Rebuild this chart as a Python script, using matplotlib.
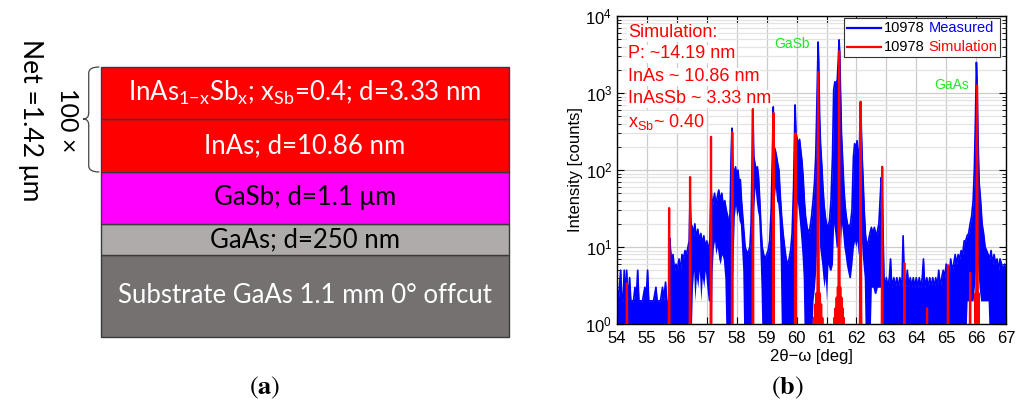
import matplotlib
matplotlib.use('Agg')
import matplotlib.pyplot as plt
from matplotlib.patches import Rectangle, PathPatch
from matplotlib.path import Path
from matplotlib.lines import Line2D
from matplotlib.offsetbox import TextArea, DrawingArea, HPacker, VPacker, AnchoredOffsetbox

plt.rcParams['font.family'] = ['Liberation Sans', 'DejaVu Sans']

# ---- panel (a): layer stack, top to bottom ----
layer_labels = [
    r'InAs$_{\mathregular{1{-}x}}$Sb$_{\mathregular{x}}$; x$_{\mathregular{Sb}}$=0.4; d=3.33 nm',
    'InAs; d=10.86 nm',
    'GaSb; d=1.1 μm',
    'GaAs; d=250 nm',
    'Substrate GaAs 1.1 mm 0° offcut',
]
layer_colors = ['#ff0000', '#ff0000', '#ff00ff', '#afabab', '#767171']
layer_text_colors = ['white', 'white', 'black', 'black', 'white']
layer_heights = [52, 53, 52, 31, 82]   # drawing height of each layer

# ---- panel (b): XRD scan, measured (upper / lower edge of the noisy trace) ----
meas_x = [
    54.00, 54.04, 54.08, 54.12, 54.16, 54.20, 54.24, 54.28, 54.32, 54.36, 54.42, 54.46, 54.55, 54.60, 54.64, 54.69,
    54.73, 54.85, 54.93, 54.97, 55.02, 55.06, 55.15, 55.22, 55.30, 55.34, 55.45, 55.52, 55.56, 55.62, 55.66, 55.72,
    55.74, 55.76, 55.79, 55.83, 55.87, 55.92, 55.97, 56.02, 56.07, 56.12, 56.17, 56.22, 56.27, 56.32, 56.37, 56.41,
    56.44, 56.47,
    56.52, 56.56, 56.60, 56.65, 56.70, 56.75, 56.80, 56.85, 56.90, 56.95, 57.00, 57.05, 57.10, 57.14, 57.18,
    57.22, 57.26, 57.30, 57.35, 57.40, 57.45, 57.50, 57.55, 57.60, 57.65, 57.70, 57.74, 57.78, 57.81, 57.84, 57.87,
    57.92, 57.96, 58.00, 58.04, 58.08, 58.12, 58.16, 58.20, 58.24, 58.28, 58.32, 58.36, 58.40, 58.44, 58.48, 58.51,
    58.54, 58.57,
    58.61, 58.65, 58.69, 58.73, 58.77, 58.81, 58.85, 58.90, 58.95, 59.00, 59.05, 59.10, 59.15, 59.19, 59.22, 59.25,
    59.29, 59.33, 59.37, 59.41, 59.45, 59.50, 59.55, 59.60, 59.65, 59.70, 59.75, 59.80, 59.85, 59.90, 59.95, 59.98,
    60.02, 60.06, 60.10, 60.14, 60.18, 60.22, 60.26, 60.30, 60.35, 60.40, 60.45, 60.50, 60.55, 60.60, 60.64, 60.67,
    60.70, 60.72, 60.74, 60.77,
    60.80, 60.84, 60.88, 60.92, 60.96, 61.00, 61.05, 61.10, 61.15, 61.20, 61.24, 61.28, 61.32, 61.36, 61.40, 61.42,
    61.44, 61.47,
    61.50, 61.54, 61.58, 61.62, 61.66, 61.70, 61.75, 61.80, 61.85, 61.90, 61.94, 61.98, 62.02, 62.06, 62.10, 62.13,
    62.16, 62.19,
    62.22, 62.26, 62.30, 62.35, 62.40, 62.45, 62.50, 62.55, 62.60, 62.65, 62.70, 62.75, 62.79, 62.83, 62.86, 62.89,
    62.92, 62.96, 63.00, 63.05, 63.10, 63.14, 63.18, 63.25, 63.30, 63.35, 63.40, 63.45, 63.52, 63.56, 63.60, 63.65,
    63.70, 63.75, 63.80, 63.85, 63.90, 63.95, 64.00, 64.05, 64.10, 64.15, 64.20, 64.24, 64.28, 64.35, 64.40, 64.45,
    64.50, 64.55, 64.60, 64.65, 64.70, 64.75, 64.80, 64.85, 64.90, 64.95, 65.00, 65.05, 65.10, 65.15, 65.20, 65.25,
    65.30, 65.35, 65.40, 65.45, 65.50, 65.55, 65.60,
    65.65, 65.70, 65.75, 65.80, 65.85, 65.90, 65.94, 65.98, 66.01, 66.03, 66.06, 66.10, 66.15, 66.20, 66.25, 66.30,
    66.35, 66.40, 66.45, 66.50, 66.55, 66.60, 66.65, 66.70, 66.75, 66.80, 66.85, 66.90, 66.95, 67.00,
]
meas_hi = [
    3, 2, 3, 5, 2, 2, 5, 2, 5, 2, 4, 2, 2, 3, 2, 5,
    2, 2, 3, 2, 5, 2, 2, 2, 3, 2, 2, 3, 2, 3.5, 2, 2,
    2, 13, 9, 6, 8, 5, 6, 5, 7, 5, 8, 7, 9, 8, 10, 12,
    45, 20,
    18, 14, 20, 13, 17, 12, 15, 11, 14, 10, 12, 9, 12, 60, 35,
    40, 50, 35, 45, 55, 40, 50, 35, 40, 30, 25, 15, 30, 150, 350, 110,
    90, 110, 80, 100, 70, 75, 40, 25, 15, 10, 9, 8, 9, 10, 20, 100,
    600, 150,
    120, 100, 110, 80, 40, 18, 10, 8, 7, 8, 9, 12, 30, 150, 660, 200,
    180, 150, 120, 100, 50, 25, 15, 10, 7, 6, 7, 9, 15, 60, 700, 300,
    250, 220, 250, 180, 130, 80, 40, 25, 18, 15, 18, 25, 40, 70, 150, 500,
    2000, 4600, 2500, 500,
    220, 120, 60, 35, 25, 20, 18, 22, 40, 150, 1100, 1400, 1300, 1500, 3000, 4900,
    3500, 1000,
    300, 130, 60, 35, 25, 20, 18, 20, 30, 150, 220, 180, 240, 130, 200, 600,
    400, 150,
    80, 30, 15, 10, 12, 15, 18, 15, 18, 14, 16, 20, 40, 80, 60, 15,
    4, 3, 4, 3, 4, 7, 3, 4, 3, 4, 3, 4, 3, 14, 4, 3,
    5, 3, 4, 3, 4, 3, 4, 3, 4, 3, 4, 7, 3, 4, 3, 4,
    3, 4, 3, 4, 3, 5, 3, 4, 5, 4, 6, 5, 4, 7, 5, 6,
    8, 6, 8, 7, 9, 8, 12,
    12, 14, 15, 20, 25, 40, 100, 500, 2500, 1500, 300, 70, 40, 20, 15, 10,
    9, 8, 7, 9, 6, 8, 6, 7, 5, 7, 6, 5, 6, 5,
]
meas_lo = [
    0.5, 0.5, 0.5, 0.5, 0.5, 0.5, 0.5, 0.5, 0.5, 0.5, 0.5, 0.5, 0.5, 0.5, 0.5, 0.5,
    0.5, 0.5, 0.5, 0.5, 0.5, 0.5, 0.5, 0.5, 0.5, 0.5, 0.5, 0.5, 0.5, 0.5, 0.5, 0.5,
    0.5, 0.5, 0.5, 0.5, 0.5, 0.5, 0.5, 0.5, 0.5, 0.5, 0.5, 0.5, 0.5, 0.5, 0.5, 0.5,
    0.5, 0.5,
    3, 5, 2, 4, 3, 5, 2, 4, 3, 5, 3, 2, 2, 0.5, 5,
    10, 12, 8, 10, 7, 6, 8, 7, 4, 0.5, 0.5, 0.5, 0.5, 2, 3, 5,
    25, 35, 25, 30, 22, 20, 10, 5, 0.5, 0.5, 0.5, 0.5, 0.5, 0.5, 0.5, 0.5,
    0.5, 30,
    60, 40, 30, 25, 10, 3, 0.5, 0.5, 0.5, 0.5, 0.5, 0.5, 0.5, 0.5, 0.5, 40,
    60, 40, 37, 25, 8, 0.5, 0.5, 0.5, 0.5, 0.5, 0.5, 0.5, 0.5, 0.5, 0.5, 10,
    40, 30, 20, 13, 8, 4, 0.5, 0.5, 0.5, 0.5, 0.5, 0.5, 2, 3, 5, 10,
    30, 50, 30, 10,
    8, 6, 4, 3, 4, 2, 6, 5, 5, 6, 20, 15, 10, 10, 20, 30,
    20, 10,
    20, 15, 10, 8, 6, 5, 4, 4, 6, 10, 12, 10, 12, 8, 10, 20,
    15, 8,
    6, 4, 0.5, 0.5, 0.5, 0.5, 3, 3, 2.5, 2.5, 3, 3, 3, 3, 0.5, 0.5,
    0.5, 0.5, 0.5, 0.5, 0.5, 0.5, 0.5, 0.5, 0.5, 0.5, 0.5, 0.5, 0.5, 0.5, 0.5, 0.5,
    0.5, 0.5, 0.5, 0.5, 0.5, 0.5, 0.5, 0.5, 0.5, 0.5, 0.5, 0.5, 0.5, 0.5, 0.5, 0.5,
    0.5, 0.5, 0.5, 0.5, 0.5, 0.5, 0.5, 0.5, 0.5, 0.5, 0.5, 0.5, 0.5, 0.5, 0.5, 0.5,
    0.5, 0.5, 0.5, 0.5, 0.5, 0.5, 0.5,
    0.5, 2, 2, 2, 2, 2, 3, 5, 8, 8, 5, 3, 2, 2, 2, 2,
    2, 2, 0.5, 0.5, 0.5, 0.5, 0.5, 0.5, 0.5, 0.5, 0.5, 0.5, 0.5, 0.5,
]

# simulation
sim_x = [
    54.0, 54.315, 54.33, 54.345,
    55.725, 55.74, 55.755,
    56.425, 56.44, 56.455,
    57.125, 57.14, 57.155,
    57.835, 57.85, 57.865,
    58.525, 58.54, 58.555,
    59.215, 59.23, 59.245,
    59.945, 59.96, 59.975,
    60.56, 60.58, 60.60, 60.62, 60.64, 60.66, 60.68, 60.70, 60.72, 60.74, 60.76, 60.78, 60.80, 60.82, 60.84, 60.86,
    60.88,
    61.24, 61.26, 61.28, 61.30, 61.32, 61.34, 61.36, 61.38, 61.40, 61.42, 61.44, 61.46, 61.48, 61.50, 61.52, 61.54,
    61.56, 61.58, 61.60,
    62.10, 62.12, 62.14, 62.16, 62.18,
    62.845, 62.86, 62.875,
    63.585, 63.60, 63.615,
    64.345, 64.36, 64.375,
    65.045, 65.06, 65.075,
    65.785, 65.80, 65.815,
    65.96, 65.98, 66.00, 66.03, 66.06, 66.08, 66.10,
    67.0,
]
sim_y = [
    0.3, 0.3, 3.4, 0.3,
    0.3, 32, 0.3,
    0.3, 81, 0.3,
    0.3, 270, 0.3,
    0.3, 310, 0.3,
    0.3, 620, 0.3,
    0.3, 550, 0.3,
    0.3, 300, 0.3,
    0.3, 1.2, 0.4, 1.8, 0.5, 2.5, 0.8, 3.5, 1870, 3.5, 0.8, 2.5, 0.5, 1.8, 0.4, 1.2,
    0.3,
    0.3, 1.2, 0.4, 1.6, 0.5, 2.2, 0.6, 3.0, 1.0, 3500, 1.0, 3.0, 0.6, 2.2, 0.5, 1.6,
    0.4, 1.2, 0.3,
    0.3, 1.5, 770, 1.5, 0.3,
    0.3, 110, 0.3,
    0.3, 6.2, 0.3,
    0.3, 1.6, 0.3,
    0.3, 5.8, 0.3,
    0.3, 4.6, 0.3,
    0.3, 2.5, 0.8, 1260, 0.8, 2.5, 0.3,
    0.3,
]

sim_notes = ['Simulation:', 'P: ~14.19 nm', 'InAs ~ 10.86 nm', 'InAsSb ~ 3.33 nm',
             r'x$_{\mathregular{Sb}}$~ 0.40']
x_ticks = list(range(54, 68))

fig = plt.figure(figsize=(10.25, 4.03), dpi=100)
sans_a = ['Lato', 'DejaVu Sans']

# ================= (a) =================
axa = fig.add_axes([0.0985, 0.1638, 0.398, 0.67])
axa.set_xlim(0, 1)
axa.set_ylim(0, sum(layer_heights))
axa.axis('off')
bottom = 0
for lab, col, tcol, h in reversed(list(zip(layer_labels, layer_colors, layer_text_colors, layer_heights))):
    axa.add_patch(Rectangle((0, bottom), 1, h, facecolor=col, edgecolor='#3a3a3a', lw=1, clip_on=False))
    axa.text(0.5, bottom + h / 2, lab, ha='center', va='center', color=tcol,
             fontsize=18.5, family=sans_a)
    bottom += h

# brace around the superlattice period
top = sum(layer_heights)
low = top - layer_heights[0] - layer_heights[1]
mid = top - layer_heights[0]
verts = [(-0.004, top), (-0.03, top), (-0.03, top - 6), (-0.03, mid + 6),
         (-0.03, mid), (-0.044, mid), (-0.03, mid), (-0.03, mid - 6),
         (-0.03, low + 6), (-0.03, low), (-0.004, low)]
codes = [Path.MOVETO, Path.CURVE3, Path.CURVE3, Path.LINETO,
         Path.CURVE3, Path.CURVE3, Path.CURVE3, Path.CURVE3,
         Path.LINETO, Path.CURVE3, Path.CURVE3]
axa.add_patch(PathPatch(Path(verts, codes), facecolor='none', edgecolor='#444444', lw=0.9, clip_on=False))

fig.text(67 / 1025, 1 - 120 / 403, '100 ×', rotation=270, ha='center', va='center',
         fontsize=18, family=sans_a)
fig.text(30 / 1025, 1 - 120 / 403, 'Net =1.42 μm', rotation=270, ha='center', va='center',
         fontsize=19, family=sans_a)
fig.text(265 / 1025, 1 - 388 / 403, r'$(\mathbf{a})$', math_fontfamily='stix', fontsize=19,
         ha='center', va='center')

# ================= (b) =================
ax = fig.add_axes([0.6020, 0.1960, 0.3795, 0.7643])
ax.fill_between(meas_x, meas_lo, meas_hi, color='#0000ff', lw=0, zorder=2)
ax.plot(meas_x, meas_hi, color='#0000ff', lw=1.2, zorder=2)
ax.plot(sim_x, sim_y, color='#ff0000', lw=1.6, zorder=3)
ax.set_yscale('log')
ax.set_ylim(1, 1e4)
ax.set_xlim(54, 67)
ax.set_xticks(x_ticks)
ax.set_axisbelow(True)
ax.grid(which='major', color='#cccccc', lw=0.9)
ax.grid(which='minor', axis='y', color='#e3e3e3', lw=0.9)
ax.tick_params(which='both', direction='in', top=True, right=True, labelsize=12)
ax.tick_params(which='major', length=5)
ax.tick_params(which='minor', length=3)
ax.tick_params(axis='x', pad=5)
for s in ax.spines.values():
    s.set_linewidth(1.0)
ax.set_xlabel('2θ−ω [deg]', fontsize=12, labelpad=2)
ax.set_ylabel('Intensity [counts]', fontsize=12, labelpad=2)

note_y = [0.945, 0.877, 0.802, 0.731, 0.656]
for t, yy in zip(sim_notes, note_y):
    ax.text(0.028, yy, t, transform=ax.transAxes, color='#ff0000', fontsize=13, va='center', ha='left',
            zorder=5, bbox=dict(facecolor='white', edgecolor='none', pad=0.5))
ax.text(0.450, 0.909, 'GaSb', transform=ax.transAxes, color='#22e622', fontsize=10, ha='center', va='center',
        zorder=5)
ax.text(0.861, 0.776, 'GaAs', transform=ax.transAxes, color='#22e622', fontsize=10, ha='center', va='center',
        zorder=5)

# legend with two-coloured labels (offsetbox sizes are in points)
rows = []
for col, word in [('#0000ff', 'Measured'), ('#ff0000', 'Simulation')]:
    da = DrawingArea(24.5, 7)
    da.add_artist(Line2D([0, 24.5], [3.5, 3.5], color=col, lw=1.6))
    rows.append(HPacker(children=[da,
                                  TextArea('10978', textprops=dict(color='black', fontsize=10.5)),
                                  TextArea(word, textprops=dict(color=col, fontsize=10.5))],
                        sep=2.5, pad=0, align='center'))
box = AnchoredOffsetbox(loc='upper right', child=VPacker(children=rows, sep=4, pad=0, align='left'),
                        pad=0.2, borderpad=0, frameon=True,
                        bbox_to_anchor=(0.985, 0.994), bbox_transform=ax.transAxes)
box.patch.set_boxstyle('square', pad=0)
box.patch.set_edgecolor('#333333')
box.patch.set_linewidth(0.8)
box.zorder = 6
ax.add_artist(box)

fig.text(787 / 1025, 1 - 388 / 403, r'$(\mathbf{b})$', math_fontfamily='stix', fontsize=19,
         ha='center', va='center')

fig.savefig('out.png', dpi=100)
